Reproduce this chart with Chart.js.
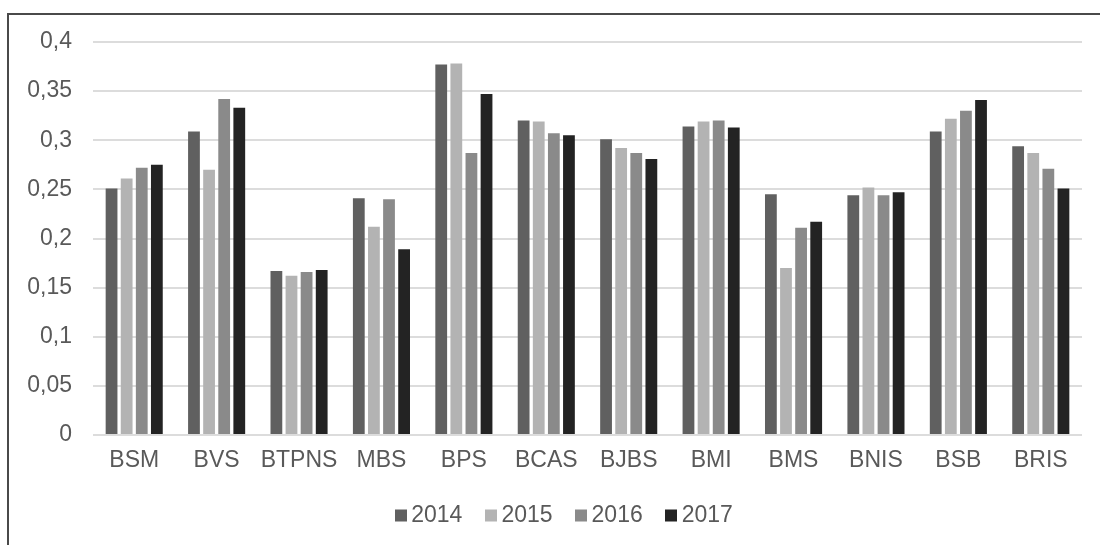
<!DOCTYPE html>
<html>
<head>
<meta charset="utf-8">
<script src="https://cdn.jsdelivr.net/npm/chart.js@4/dist/chart.umd.min.js"></script>
<style>
  html, body { margin: 0; padding: 0; background: #ffffff; overflow: hidden; }
  #wrap { position: relative; width: 1100px; height: 545px; }
  #frame { position: absolute; left: 7px; top: 13px; width: 1200px; height: 600px;
           border-left: 2px solid #4a4a4a; border-top: 2px solid #4a4a4a; box-sizing: border-box; }
  canvas { position: absolute; left: 0; top: 0; }
</style>
</head>
<body>
<div id="wrap">
  <div id="frame"></div>
  <canvas id="c" width="1100" height="545"></canvas>
</div>
<script>
const categories = ['BSM', 'BVS', 'BTPNS', 'MBS', 'BPS', 'BCAS', 'BJBS', 'BMI', 'BMS', 'BNIS', 'BSB', 'BRIS'];
const seriesNames = ['2014', '2015', '2016', '2017'];
const values2014 = [0.251, 0.309, 0.167, 0.241, 0.377, 0.320, 0.301, 0.314, 0.245, 0.244, 0.309, 0.294];
const values2015 = [0.261, 0.270, 0.162, 0.212, 0.378, 0.319, 0.292, 0.319, 0.170, 0.252, 0.322, 0.287];
const values2016 = [0.272, 0.342, 0.166, 0.240, 0.287, 0.307, 0.287, 0.320, 0.211, 0.244, 0.330, 0.271];
const values2017 = [0.275, 0.333, 0.168, 0.189, 0.347, 0.305, 0.281, 0.313, 0.217, 0.247, 0.341, 0.251];
const yTickLabels = ['0', '0,05', '0,1', '0,15', '0,2', '0,25', '0,3', '0,35', '0,4'];

const colors = ['#606060', '#b3b3b3', '#8a8a8a', '#232323'];
const FONT = '"Liberation Sans", Arial, sans-serif';
const TEXT = '#595959';

const seriesValues = [values2014, values2015, values2016, values2017];
const datasets = seriesNames.map((name, i) => ({
  label: name,
  data: seriesValues[i],
  backgroundColor: colors[i],
  borderWidth: 0,
  categoryPercentage: 0.733,
  barPercentage: 0.78
}));

const customLegend = {
  id: 'customLegend',
  afterDraw(chart) {
    const ctx = chart.ctx;
    ctx.save();
    ctx.font = '23px ' + FONT;
    const box = 12, gapText = 4.5, gapItem = 22.5;
    const items = chart.data.datasets.map(d => ({
      label: d.label, color: d.backgroundColor,
      tw: ctx.measureText(d.label).width
    }));
    const total = items.reduce((s, it) => s + box + gapText + it.tw, 0) + gapItem * (items.length - 1);
    let x = 563.8 - total / 2;
    const cy = 515.5;
    items.forEach(it => {
      ctx.fillStyle = it.color;
      ctx.fillRect(Math.round(x), cy - 6, box, box);
      ctx.fillStyle = TEXT;
      ctx.textBaseline = 'middle';
      ctx.textAlign = 'left';
      ctx.fillText(it.label, x + box + gapText, cy);
      x += box + gapText + it.tw + gapItem;
    });
    ctx.restore();
  }
};

new Chart(document.getElementById('c'), {
  type: 'bar',
  data: { labels: categories, datasets },
  options: {
    responsive: false,
    animation: false,
    devicePixelRatio: 1,
    layout: { padding: { left: 0, right: 18, top: 42, bottom: 0 } },
    plugins: {
      legend: { display: false },
      tooltip: { enabled: false }
    },
    scales: {
      x: {
        grid: { display: false, drawTicks: false },
        border: { display: false },
        ticks: { color: TEXT, font: { family: FONT, size: 23 }, padding: 12, maxRotation: 0, autoSkip: false },
        afterFit(scale) { scale.height = 110; }
      },
      y: {
        min: 0, max: 0.4,
        ticks: {
          stepSize: 0.05, color: TEXT, font: { family: FONT, size: 23 }, padding: 21,
          callback: (v, i) => yTickLabels[i]
        },
        grid: { color: '#dcdcdc', lineWidth: 2, drawTicks: false },
        border: { display: false },
        afterFit(scale) { scale.width = 93; }
      }
    }
  },
  plugins: [customLegend]
});
</script>
</body>
</html>
